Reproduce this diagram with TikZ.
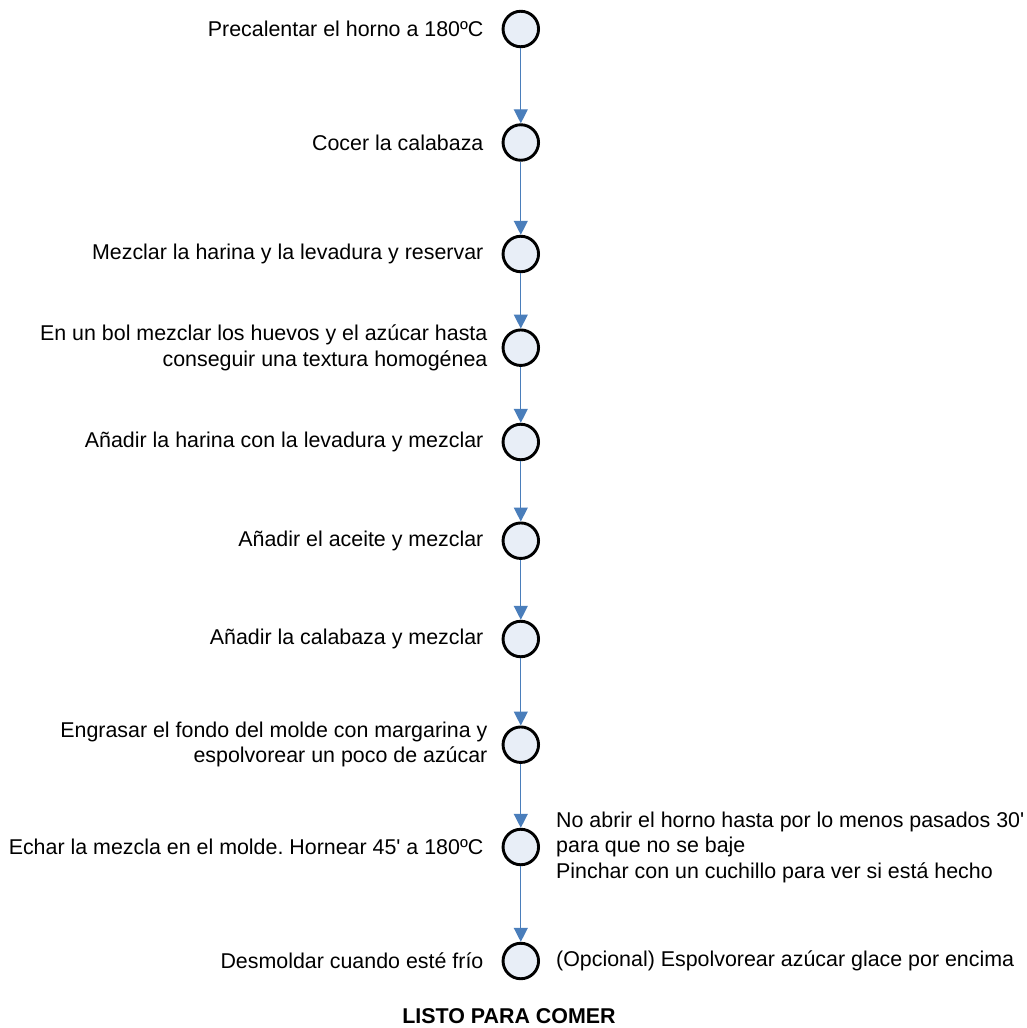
\documentclass[tikz,border=0pt]{standalone}
\usepackage{fontspec}
\setmainfont{Liberation Sans}[Ligatures=TeXOff]
\usepackage{tikz}
\usetikzlibrary{arrows.meta,positioning}

\definecolor{flowblue}{RGB}{74,126,187}
\definecolor{stepfill}{RGB}{232,238,247}
\frenchspacing

\begin{document}
\begin{tikzpicture}[x=1pt,y=-1pt]
            \tikzset{vertex/.style = {shape=circle,draw,line width=2.9pt,fill=stepfill,minimum size=35.5pt,inner sep=0pt}}
            \tikzset{edge/.style = {draw=flowblue,line width=1.3pt,-{Triangle[width=14pt,length=14pt,fill=flowblue]}}}
            \tikzset{steptext/.style = {inner sep=0pt,font=\fontsize{21.4}{25.5}\selectfont}}

            \useasboundingbox (0,0) rectangle (1027,1028);

            \node[vertex] (horno) at (520.8,29) {};
            \node[vertex] (cocer) at (520.8,142.5) {};
            \node[vertex] (reservar) at (520.8,254) {};
            \node[vertex] (huevos) at (520.8,347.7) {};
            \node[vertex] (harina) at (520.8,442) {};
            \node[vertex] (aceite) at (520.8,540.7) {};
            \node[vertex] (calabaza) at (520.8,639) {};
            \node[vertex] (molde) at (520.8,744.7) {};
            \node[vertex] (hornear) at (520.8,847) {};
            \node[vertex] (desmoldar) at (520.8,961) {};

            \node[steptext, left=18pt of horno] (horno-txt) {Precalentar el horno a 180ºC};
            \node[steptext, left=18pt of cocer] (cocer-txt) {Cocer la calabaza};
            \node[steptext, left=18pt of reservar] (reservar-txt) {Mezclar la harina y la levadura y reservar};
            \node[steptext, left=14pt of huevos, align=right] (huevos-txt) {En un bol mezclar los huevos y el azúcar hasta\\conseguir una textura homogénea};
            \node[steptext, left=18pt of harina] (harina-txt) {Añadir la harina con la levadura y mezclar};
            \node[steptext, left=18pt of aceite] (aceite-txt) {Añadir el aceite y mezclar};
            \node[steptext, left=18pt of calabaza] (calabaza-txt) {Añadir la calabaza y mezclar};
            \node[steptext, left=14pt of molde, align=right] (molde-txt) {Engrasar el fondo del molde con margarina y\\espolvorear un poco de azúcar};
            \node[steptext, left=18pt of hornear] (hornear-txt) {Echar la mezcla en el molde. Hornear 45' a 180ºC};
            \node[steptext, left=18pt of desmoldar] (desmoldar-txt) {Desmoldar cuando esté frío};

            \node[steptext, right=16pt of hornear, align=left] (hornear-nota) {No abrir el horno hasta por lo menos pasados 30'\\para que no se baje\\Pinchar con un cuchillo para ver si está hecho};
            \node[steptext, right=16pt of desmoldar] (desmoldar-nota) {(Opcional) Espolvorear azúcar glace por encima};

            \node[steptext, font=\fontsize{21.4}{25.5}\selectfont\bfseries] (listo) at (509,1016) {LISTO PARA COMER};

            \draw[edge] (horno) to (cocer);
            \draw[edge] (cocer) to (reservar);
            \draw[edge] (reservar) to (huevos);
            \draw[edge] (huevos) to (harina);
            \draw[edge] (harina) to (aceite);
            \draw[edge] (aceite) to (calabaza);
            \draw[edge] (calabaza) to (molde);
            \draw[edge] (molde) to (hornear);
            \draw[edge] (hornear) to (desmoldar);
\end{tikzpicture}
\end{document}
